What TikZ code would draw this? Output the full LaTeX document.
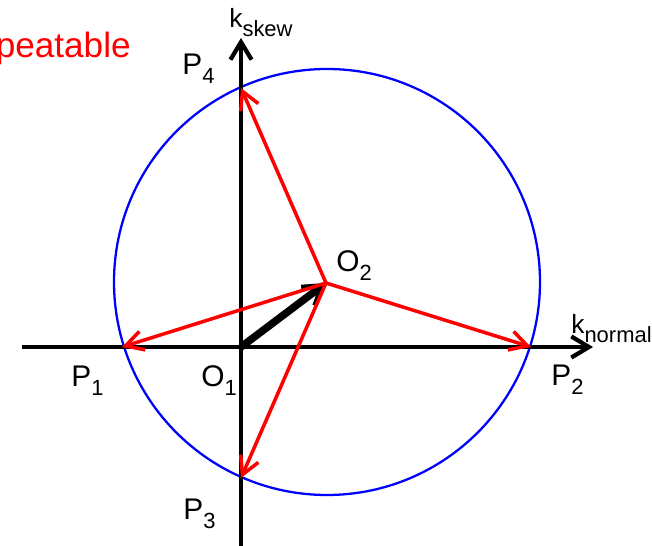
\documentclass[tikz,border=0pt]{standalone}
\usepackage{fontspec}
\setmainfont{Liberation Sans}
\usetikzlibrary{arrows.meta}
\newcommand{\lowsub}[1]{\raisebox{-4.8pt}{\fontsize{12.5}{14}\selectfont #1}}

\begin{document}
\begin{tikzpicture}[x=0.02cm,y=-0.02cm,
  axis/.style={line width=2.4pt,-{Straight Barb[length=10pt,width=12pt,line width=2.4pt]}},
  vec/.style={red,line width=2pt,-{Straight Barb[length=10pt,width=11pt,line width=2pt]}},
  originvec/.style={line width=4.3pt,-{Straight Barb[length=10pt,width=13pt,line width=3pt]}},
  lbl/.style={inner sep=0pt,anchor=base west,font=\fontsize{17}{20}\selectfont},
  klbl/.style={inner sep=0pt,anchor=base west,font=\fontsize{15}{18}\selectfont}]
  \useasboundingbox (0,0) rectangle (652,546);
  \coordinate (O1) at (241,347);
  \coordinate (O2) at (326,283);
  \coordinate (P1) at (122,347);
  \coordinate (P2) at (531,347);
  \coordinate (P3) at (241,478);
  \coordinate (P4) at (241,88);
  \coordinate (xfrom) at (22,347);
  \coordinate (xto) at (593,347);
  \coordinate (yfrom) at (241,546);
  \coordinate (yto) at (241,38);
  \draw[blue,line width=1.3pt] (327,282) circle (213);
  \draw[axis] (xfrom) -- (xto);
  \draw[axis] (yfrom) -- (yto);
  \draw[originvec] (O1) -- (O2);
  \draw[vec] (O2) -- (P1);
  \draw[vec] (O2) -- (P2);
  \draw[vec] (O2) -- (P3);
  \draw[vec] (O2) -- (P4);
  \node[lbl] (p4lbl) at (182,75) {P\lowsub{4}};
  \node[lbl] (p1lbl) at (71,387) {P\lowsub{1}};
  \node[lbl] (o1lbl) at (201,387) {O\lowsub{1}};
  \node[lbl] (p2lbl) at (551,386) {P\lowsub{2}};
  \node[lbl] (p3lbl) at (183,520) {P\lowsub{3}};
  \node[lbl] (o2lbl) at (336,272) {O\lowsub{2}};
  \node[klbl] (kskew) at (229,28) {k\lowsub{skew}};
  \node[klbl] (knormal) at (571,334) {k\lowsub{normal}};
  \node[lbl,red,anchor=base east,font=\fontsize{20}{24}\selectfont] (title) at (131,58) {peatable};
\end{tikzpicture}
\end{document}
